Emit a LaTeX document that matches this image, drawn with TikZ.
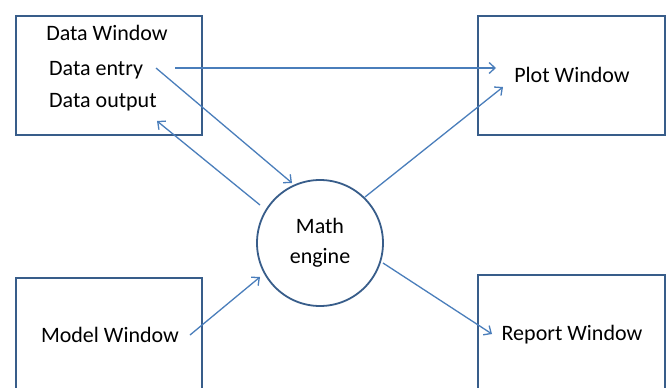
\documentclass[tikz,border=0pt]{standalone}
\usepackage{fontspec}
\setmainfont{Carlito}
\usetikzlibrary{arrows.meta}
\definecolor{boxblue}{HTML}{385D8A}
\definecolor{arrblue}{HTML}{4A7EBB}
\begin{document}
\begin{tikzpicture}[x=1pt,y=-1pt,
  win/.style={draw=boxblue,line width=1.8pt,fill=white},
  lbl/.style={font=\fontsize{22}{24}\selectfont,inner sep=0pt},
  conn/.style={draw=arrblue,line width=1.3pt,-{Straight Barb[length=6pt,width=11pt,line width=1.3pt]}}]
\clip (0,0) rectangle (667,388);
\fill[white] (0,0) rectangle (667,388);
% boxes
\node[win,minimum width=186pt,minimum height=119pt,anchor=north west] (dw) at (15,15) {};
\node[win,minimum width=187pt,minimum height=119pt,anchor=north west] (pw) at (477,15) {};
\node[win,minimum width=186pt,minimum height=130pt,anchor=north west] (mw) at (15,277) {};
\node[win,minimum width=187pt,minimum height=130pt,anchor=north west] (rw) at (477,274) {};
\node[draw=boxblue,line width=1.8pt,circle,minimum size=126pt,fill=white] (me) at (320,243) {};
% labels
\node[lbl] (dwt) at (107,33) {Data Window};
\node[lbl,anchor=west] (de) at (49,70) {Data entry};
\node[lbl,anchor=west] (do) at (49,102) {Data output};
\node[lbl] (pwt) at (572,75) {Plot Window};
\node[lbl,align=center] (met) at (320,243) {Math\\[6pt]engine};
\node[lbl] (mwt) at (110,335) {Model Window};
\node[lbl] (rwt) at (572,335) {Report Window};
% connector endpoints
\coordinate (a1) at (175,68);
\coordinate (a2) at (496,68);
\coordinate (b1) at (156,68);
\coordinate (b2) at (292,183);
\coordinate (c1) at (260,205);
\coordinate (c2) at (157,121);
\coordinate (d1) at (365,197);
\coordinate (d2) at (503,87);
\coordinate (e1) at (190,335);
\coordinate (e2) at (260,277);
\coordinate (f1) at (383,263);
\coordinate (f2) at (492,334);
\draw[conn] (a1) -- (a2);
\draw[conn] (b1) -- (b2);
\draw[conn] (c1) -- (c2);
\draw[conn] (d1) -- (d2);
\draw[conn] (e1) -- (e2);
\draw[conn] (f1) -- (f2);
\end{tikzpicture}
\end{document}
